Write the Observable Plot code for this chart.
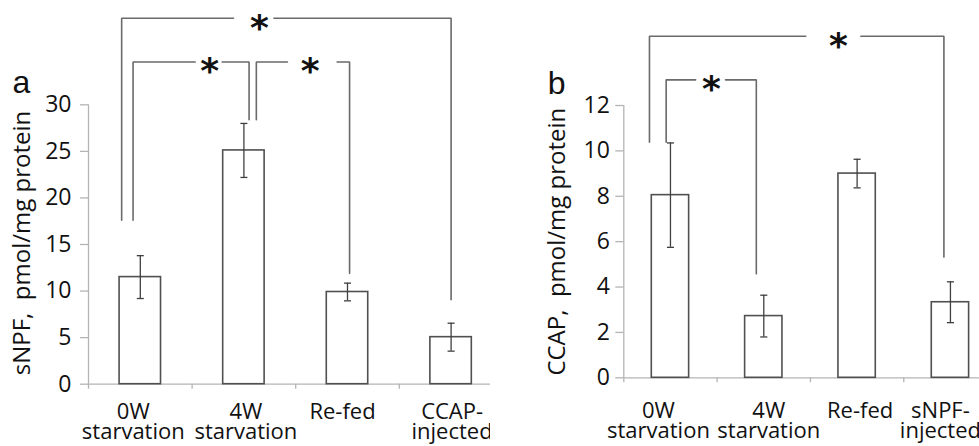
<!DOCTYPE html>
<html><head><meta charset="utf-8">
<script src="https://cdn.jsdelivr.net/npm/d3@7"></script>
<script src="https://cdn.jsdelivr.net/npm/@observablehq/plot@0.6"></script>
<style>
body{margin:0;background:#fff;}
#wrap{display:flex;width:979px;height:446px;overflow:hidden;}
.panel{overflow:hidden;flex:none;height:446px;}
.panel svg{overflow:hidden;}
</style></head><body>
<div id="wrap"><div class="panel" id="pa" style="width:490px"></div><div class="panel" id="pb" style="width:489px"></div></div>
<script>
// ---- data ----
const categoriesA = ["0W\nstarvation", "4W\nstarvation", "Re-fed", "CCAP-\ninjected"];
const valuesA = [11.5, 25.1, 9.9, 5.05];
const errorsA = [2.3, 2.9, 0.95, 1.5];
const ticksA = [0, 5, 10, 15, 20, 25, 30];
const yLabelA = "sNPF,  pmol/mg protein";

const categoriesB = ["0W\nstarvation", "4W\nstarvation", "Re-fed", "sNPF-\ninjected"];
const valuesB = [8.05, 2.72, 9.0, 3.33];
const errorsB = [2.3, 0.92, 0.63, 0.9];
const ticksB = [0, 2, 4, 6, 8, 10, 12];
const yLabelB = "CCAP,  pmol/mg protein";

// significance brackets (x in group-index units, y in value units)
const bracketsA = [
  {x1: -0.18, x2: 3.0, top: 39.3, end1: 17.6, end2: 9.07, gap1: 0.90, gap2: 1.29, star: 1.15},
  {x1: -0.07, x2: 1.05, top: 34.6, end1: 17.6, end2: 28.4, gap1: 0.53, gap2: 0.79, star: 0.67},
  {x1: 1.12, x2: 2.02, top: 34.6, end1: 28.4, end2: 11.9, gap1: 1.42, gap2: 1.90, star: 1.64}
];
const bracketsB = [
  {x1: -0.225, x2: 2.93, top: 15.05, end1: 10.38, end2: 5.32, gap1: 1.45, gap2: 2.04, star: 1.80},
  {x1: -0.046, x2: 0.92, top: 13.13, end1: 10.38, end2: 4.58, gap1: 0.27, gap2: 0.59, star: 0.44}
];

const AXIS = "#b4b4b4", BAR = "#505050", ERR = "#404040", BRK = "#6a6a6a", TXT = "#111";
const FONT = "'Open Sans', sans-serif";

function panel({cats, vals, errs, ticks, yLabel, brackets, letter, width, marginLeft, xRight, marginTop, marginBottom, yMax, tickPadding, labelDy, labelShift, yLabelDy, capW}) {
  const rows = cats.map((c, i) => ({i, c, v: vals[i], e: errs[i], s: labelShift[i]}));
  const bounds = d3.range(cats.length + 1).map(k => k - 0.5);
  const pts = brackets.flatMap((b, k) => [
    {id: k + "L", x: b.x1, y: b.end1}, {id: k + "L", x: b.x1, y: b.top}, {id: k + "L", x: b.gap1, y: b.top},
    {id: k + "R", x: b.gap2, y: b.top}, {id: k + "R", x: b.x2, y: b.top}, {id: k + "R", x: b.x2, y: b.end2}
  ]);
  const labelMarks = rows.map(r => Plot.text([r], {x: "i", y: 0, text: "c", lineAnchor: "top", dy: labelDy, dx: r.s, lineHeight: 0.92, fontSize: 22, fill: TXT}));
  return Plot.plot({
    width, height: 446,
    marginLeft, marginRight: 0, marginTop, marginBottom,
    style: {fontFamily: FONT, fontSize: "22px", color: TXT, background: "white"},
    x: {domain: [-0.5, cats.length - 0.5], range: [marginLeft, xRight], axis: null},
    y: {domain: [0, yMax], axis: null},
    marks: [
      Plot.ruleY([0], {x1: -0.5, x2: cats.length - 0.5, stroke: AXIS, strokeWidth: 1.3}),
      Plot.ruleX([-0.5], {y1: 0, y2: yMax, stroke: AXIS, strokeWidth: 1.3}),
      Plot.axisX(bounds, {tickSize: 5, tickFormat: () => "", stroke: AXIS, strokeWidth: 1.3}),
      Plot.axisY(ticks, {tickSize: 8, tickPadding, stroke: AXIS, strokeWidth: 1.3, fill: TXT, fontSize: 23, label: null}),
      Plot.rectY(rows, {x1: d => d.i - 0.2, x2: d => d.i + 0.2, y1: 0, y2: "v", fill: "white", stroke: BAR, strokeWidth: 1.6}),
      Plot.ruleX(rows, {x: "i", y1: d => d.v - d.e, y2: d => d.v + d.e, stroke: ERR, strokeWidth: 1.3}),
      Plot.link(rows, {x1: d => d.i - capW, x2: d => d.i + capW, y1: d => d.v + d.e, y2: d => d.v + d.e, stroke: ERR, strokeWidth: 1.3}),
      Plot.link(rows, {x1: d => d.i - capW, x2: d => d.i + capW, y1: d => d.v - d.e, y2: d => d.v - d.e, stroke: ERR, strokeWidth: 1.3}),
      Plot.line(pts, {x: "x", y: "y", z: "id", stroke: BRK, strokeWidth: 1.6, strokeLinejoin: "miter"}),
      Plot.text(brackets, {x: "star", y: "top", text: () => "*", fontFamily: "DejaVu Sans", fontWeight: "bold", fontSize: 36, lineAnchor: "middle", dy: 10, fill: TXT}),
      ...labelMarks,
      Plot.text([yLabel], {frameAnchor: "left", text: d => d, rotate: -90, lineAnchor: "middle", textAnchor: "middle", dx: -66, dy: yLabelDy, fontSize: 24, fill: TXT}),
      Plot.text([letter], {frameAnchor: "top-left", text: d => d, textAnchor: "start", lineAnchor: "bottom", dx: -76, dy: -12, fontFamily: "'Liberation Sans', Arial, sans-serif", fontSize: 32, fill: TXT})
    ]
  });
}

document.getElementById("pa").append(panel({
  cats: categoriesA, vals: valuesA, errs: errorsA, ticks: ticksA, yLabel: yLabelA, brackets: bracketsA, letter: "a",
  width: 490, marginLeft: 88, xRight: 502.4, marginTop: 104.3, marginBottom: 62.3, yMax: 30, tickPadding: 9, labelDy: 20, labelShift: [-7, 2, -5, 1], yLabelDy: -1.5, capW: 0.034
}));
document.getElementById("pb").append(panel({
  cats: categoriesB, vals: valuesB, errs: errorsB, ticks: ticksB, yLabel: yLabelB, brackets: bracketsB, letter: "b",
  width: 489, marginLeft: 133.3, xRight: 506.6, marginTop: 105, marginBottom: 68.7, yMax: 12, tickPadding: 6, labelDy: 26, labelShift: [-12, 5, 3, -10], yLabelDy: 0, capW: 0.038
}));
</script>
</body></html>
